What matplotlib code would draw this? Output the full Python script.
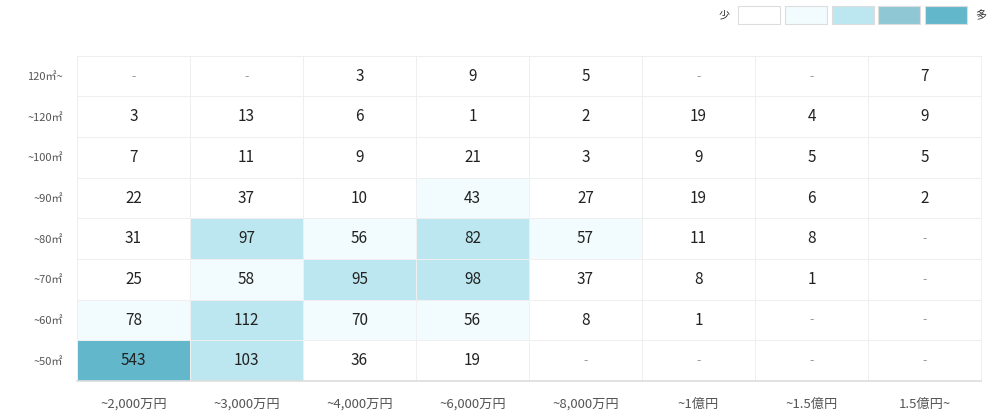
import numpy as np
import matplotlib.pyplot as plt
from matplotlib.colors import ListedColormap, BoundaryNorm
from matplotlib.patches import Rectangle

plt.rcParams['font.family'] = ['Noto Sans CJK JP', 'DejaVu Sans']

# price bands (x) and floor area bands (y, top to bottom)
price_labels = ['~2,000万円', '~3,000万円', '~4,000万円', '~6,000万円',
                '~8,000万円', '~1億円', '~1.5億円', '1.5億円~']
area_labels = ['120㎡~', '~120㎡', '~100㎡', '~90㎡', '~80㎡', '~70㎡', '~60㎡', '~50㎡']

# counts per row (None = no data, shown as "-")
row_120plus = [None, None, 3, 9, 5, None, None, 7]
row_120 = [3, 13, 6, 1, 2, 19, 4, 9]
row_100 = [7, 11, 9, 21, 3, 9, 5, 5]
row_90 = [22, 37, 10, 43, 27, 19, 6, 2]
row_80 = [31, 97, 56, 82, 57, 11, 8, None]
row_70 = [25, 58, 95, 98, 37, 8, 1, None]
row_60 = [78, 112, 70, 56, 8, 1, None, None]
row_50 = [543, 103, 36, 19, None, None, None, None]

rows = [row_120plus, row_120, row_100, row_90, row_80, row_70, row_60, row_50]
counts = np.array([[np.nan if v is None else v for v in r] for r in rows], dtype=float)

colors = ['#ffffff', '#f2fbfd', '#bce7f0', '#8fc8d4', '#63b7cb']
cmap = ListedColormap(colors)
norm = BoundaryNorm([0, 40, 80, 200, 400, 10000], cmap.N)

fig = plt.figure(figsize=(10, 4.17), dpi=100)
ax = fig.add_axes([0.077, 0.0863, 0.904, 0.78])

data = np.nan_to_num(counts, nan=0)
ax.pcolormesh(data, cmap=cmap, norm=norm, edgecolors='#efefef', linewidth=0.4)
ax.set_xlim(0, 8)
ax.set_ylim(8, 0)

for i, r in enumerate(rows):
    for j, v in enumerate(r):
        if v is None:
            ax.text(j + 0.5, i + 0.5, '-', ha='center', va='center', fontsize=9, color='#999999')
        else:
            ax.text(j + 0.5, i + 0.5, str(v), ha='center', va='center', fontsize=11, color='#222222')

ax.set_xticks(np.arange(8) + 0.5)
ax.set_xticklabels(price_labels, fontsize=9.5, color='#555555')
ax.set_yticks(np.arange(8) + 0.5)
ax.set_yticklabels(area_labels, fontsize=8, color='#555555')
ax.tick_params(length=0, pad=12)
ax.tick_params(axis='y', pad=10)
for s in ax.spines.values():
    s.set_color('#eeeeee')
    s.set_linewidth(0.6)
ax.spines['bottom'].set_color('#dddddd')
ax.spines['bottom'].set_linewidth(1.2)

# legend boxes across the top right
fig.text(0.724, 0.962, '少', fontsize=8, color='#333333', ha='center', va='center')
fig.text(0.981, 0.962, '多', fontsize=8, color='#333333', ha='center', va='center')
x0 = 0.738
for c in colors:
    fig.add_artist(Rectangle((x0, 0.942), 0.042, 0.043, facecolor=c, edgecolor='#dddddd',
                             linewidth=0.8, transform=fig.transFigure))
    x0 += 0.0468

fig.savefig('out.png', dpi=100, facecolor='white')
